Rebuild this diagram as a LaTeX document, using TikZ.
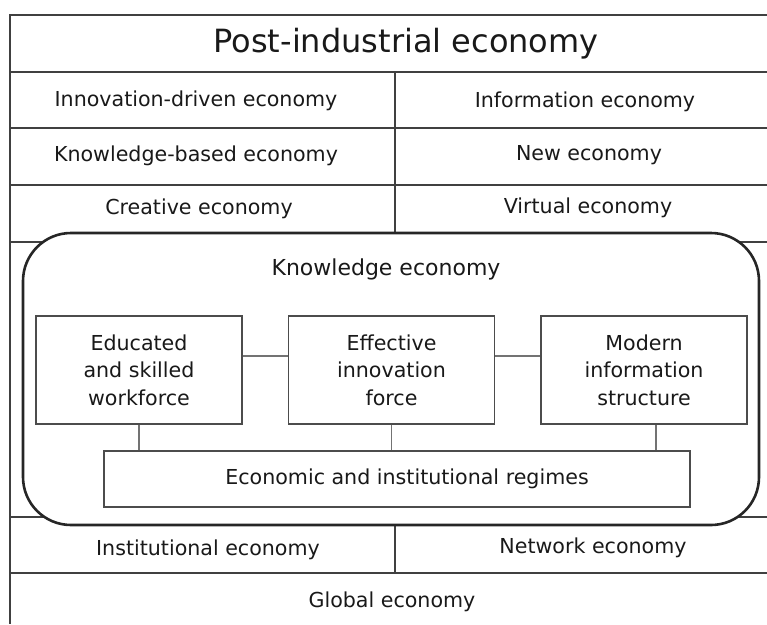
\documentclass[tikz,border=0pt]{standalone}
\usepackage{fontspec}
\setmainfont{DejaVu Sans}
\usepackage{tikz}
\usetikzlibrary{positioning}

\begin{document}
\begin{tikzpicture}[x=1pt, y=-1pt,
    rule/.style={draw=black!75, line width=1.4pt},
    txt/.style={text=black!90, font=\fontsize{20.6}{27.5}\selectfont, align=center, inner sep=0pt},
    box/.style={txt, draw=black!70, line width=1.4pt, fill=white, minimum width=206pt, minimum height=108pt},
    link/.style={draw=black!55, line width=1.8pt}]

\useasboundingbox (0,0) rectangle (767,624);

% outer table, cut off at the right and at the bottom
\draw[rule] (767,15) -- (10,15) -- (10,624);
\foreach \y in {72,128,185,242,517,573}
    \draw[rule] (10,\y) -- (767,\y);
\draw[rule] (395,72) -- (395,242);
\draw[rule] (395,517) -- (395,573);

\node[txt, font=\fontsize{32}{36}\selectfont] (post) at (406,44) {Post-industrial economy};
\node[txt] (innov) at (196,101) {Innovation-driven economy};
\node[txt] (infoec) at (585,102) {Information economy};
\node[txt] (kbased) at (196,156) {Knowledge-based economy};
\node[txt] (newec) at (589,155) {New economy};
\node[txt] (creat) at (199,209) {Creative economy};
\node[txt] (virt) at (588,208) {Virtual economy};

% knowledge economy frame
\draw[line width=2.6pt, draw=black!85, fill=white, rounded corners=48pt] (23,233) rectangle (759,525);
\node[txt, font=\fontsize{22}{26}\selectfont] (know) at (386,269) {Knowledge economy};

\node[box] (edu) at (139,370) {Educated\\and skilled\\workforce};
\node[box] (inno) at (391.5,370) {Effective\\innovation\\force};
\node[box] (info) at (644,370) {Modern\\information\\structure};
\node[box, minimum width=586pt, minimum height=56pt] (reg) at (397,479) {\hspace*{20pt}Economic and institutional regimes};

\draw[link] ([yshift=14pt]edu.east) -- ([yshift=14pt]inno.west);
\draw[link] ([yshift=14pt]inno.east) -- ([yshift=14pt]info.west);
\draw[link] (edu.south) -- (edu.south |- reg.north);
\draw[link] (inno.south) -- (inno.south |- reg.north);
\draw[link] ([xshift=12pt]info.south) -- ([xshift=12pt]info.south |- reg.north);

\node[txt] (inst) at (208,550) {Institutional economy};
\node[txt] (netw) at (593,548) {Network economy};
\node[txt] (glob) at (392,602) {Global economy};

\end{tikzpicture}
\end{document}
